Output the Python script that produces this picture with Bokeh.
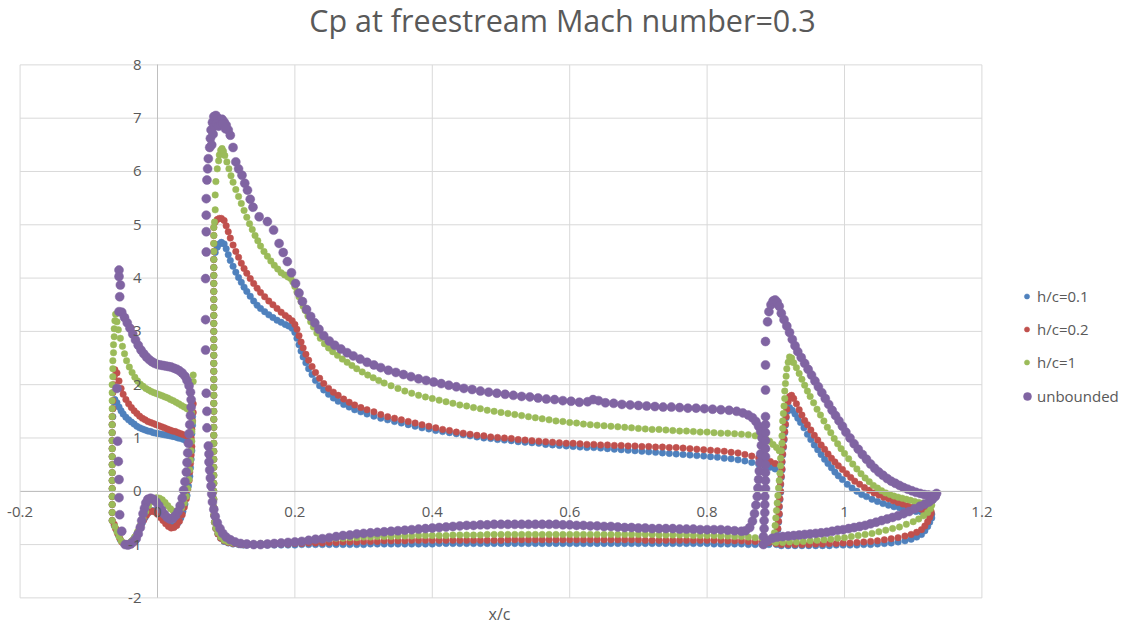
from bokeh.plotting import figure
from bokeh.models import Legend, LegendItem, FixedTicker, Range1d, Label
from bokeh.embed import file_html
from bokeh.resources import INLINE

# ---------------- text ----------------
TITLE = "Cp at freestream Mach number=0.3"
X_LABEL = "x/c"
SERIES_NAMES = ["h/c=0.1", "h/c=0.2", "h/c=1", "unbounded"]
SERIES_COLORS = ["#4F81BD", "#C0504D", "#9BBB59", "#8064A2"]
X_TICKS = [-0.2, 0, 0.2, 0.4, 0.6, 0.8, 1, 1.2]
X_TICK_LABELS = ["-0.2", "0", "0.2", "0.4", "0.6", "0.8", "1", "1.2"]
Y_TICKS = [-2, -1, 0, 1, 2, 3, 4, 5, 6, 7, 8]
Y_TICK_LABELS = ["-2", "-1", "0", "1", "2", "3", "4", "5", "6", "7", "8"]

# ---------------- data: (x/c, Cp) ----------------
# --- slat ---
H01_SLAT = [(-0.066,-0.55),(-0.066,-0.40),(-0.066,-0.25),(-0.066,-0.10),(-0.066,0.05),(-0.066,0.20),(-0.066,0.35),
            (-0.066,0.50),(-0.066,0.65),(-0.066,0.80),(-0.066,0.95),(-0.066,1.10),(-0.066,1.25),(-0.065,1.40),
            (-0.065,1.55),(-0.064,1.68),(-0.062,1.72),(-0.059,1.66),(-0.056,1.58),(-0.053,1.51),(-0.050,1.45),
            (-0.046,1.39),(-0.042,1.34),(-0.038,1.30),(-0.034,1.26),(-0.030,1.22),(-0.026,1.19),(-0.022,1.17),
            (-0.018,1.15),(-0.014,1.13),(-0.010,1.12),(-0.006,1.10),(-0.002,1.09),(0.002,1.08),(0.006,1.07),
            (0.010,1.06),(0.014,1.05),(0.018,1.04),(0.022,1.03),(0.026,1.02),(0.030,1.00),(0.034,0.99),
            (0.038,0.97),(0.042,0.95),(0.046,0.93),(0.049,0.92),(0.050,1.08),(0.051,1.24),(0.051,1.40),
            (0.050,0.76),(0.049,0.60),(0.048,0.44),(0.047,0.28),(0.045,0.10),(0.043,-0.08),(0.040,-0.24),
            (0.037,-0.38),(0.034,-0.50),(0.030,-0.59),(0.026,-0.64),(0.022,-0.66),(0.018,-0.64),(0.014,-0.60),
            (0.010,-0.54),(0.006,-0.48),(0.002,-0.42),(-0.002,-0.38),(-0.006,-0.36),(-0.010,-0.37),(-0.014,-0.41),
            (-0.018,-0.49),(-0.022,-0.59),(-0.026,-0.70),(-0.030,-0.80),(-0.034,-0.88),(-0.038,-0.94),
            (-0.042,-0.98),(-0.046,-0.99),(-0.050,-0.97),(-0.054,-0.91),(-0.057,-0.82),(-0.060,-0.72),(-0.063,-0.64)]

H02_SLAT = [(-0.066,-0.55),(-0.066,-0.40),(-0.066,-0.25),(-0.066,-0.10),(-0.066,0.05),(-0.066,0.20),(-0.066,0.35),
            (-0.066,0.50),(-0.066,0.65),(-0.066,0.80),(-0.066,0.95),(-0.066,1.10),(-0.066,1.25),(-0.066,1.40),
            (-0.065,1.55),(-0.065,1.70),(-0.065,1.85),(-0.064,2.00),(-0.063,2.15),(-0.062,2.28),(-0.059,2.22),
            (-0.056,2.07),(-0.053,1.93),(-0.050,1.82),(-0.046,1.72),(-0.042,1.64),(-0.038,1.57),(-0.034,1.51),
            (-0.030,1.46),(-0.026,1.41),(-0.022,1.37),(-0.018,1.34),(-0.014,1.31),(-0.010,1.29),(-0.006,1.27),
            (-0.002,1.25),(0.002,1.23),(0.006,1.21),(0.010,1.19),(0.014,1.17),(0.018,1.15),(0.022,1.13),
            (0.026,1.12),(0.030,1.10),(0.034,1.08),(0.038,1.06),(0.042,1.04),(0.046,1.02),(0.049,1.00),
            (0.050,1.16),(0.051,1.32),(0.052,1.48),(0.052,1.64),(0.050,0.84),(0.049,0.68),(0.048,0.52),
            (0.047,0.36),(0.046,0.20),(0.044,0.03),(0.042,-0.14),(0.039,-0.30),(0.036,-0.44),(0.032,-0.56),
            (0.028,-0.64),(0.024,-0.68),(0.020,-0.69),(0.016,-0.66),(0.012,-0.61),(0.008,-0.55),(0.004,-0.49),
            (0.000,-0.43),(-0.004,-0.39),(-0.008,-0.37),(-0.012,-0.39),(-0.016,-0.45),(-0.020,-0.54),
            (-0.024,-0.64),(-0.028,-0.75),(-0.032,-0.85),(-0.036,-0.92),(-0.040,-0.97),(-0.044,-0.99),
            (-0.048,-0.99),(-0.052,-0.95),(-0.055,-0.88),(-0.058,-0.79),(-0.061,-0.70),(-0.063,-0.62)]

H1_SLAT = [(-0.066,-0.55),(-0.066,-0.40),(-0.066,-0.25),(-0.066,-0.10),(-0.066,0.05),(-0.066,0.20),(-0.066,0.35),
           (-0.066,0.50),(-0.066,0.65),(-0.066,0.80),(-0.066,0.95),(-0.066,1.10),(-0.066,1.25),(-0.066,1.40),
           (-0.066,1.55),(-0.066,1.70),(-0.066,1.85),(-0.066,2.00),(-0.065,2.15),(-0.065,2.30),(-0.065,2.45),
           (-0.064,2.60),(-0.064,2.75),(-0.063,2.90),(-0.063,3.05),(-0.062,3.20),(-0.061,3.32),(-0.059,3.18),
           (-0.057,3.03),(-0.054,2.87),(-0.051,2.72),(-0.048,2.58),(-0.045,2.45),(-0.041,2.33),(-0.037,2.23),
           (-0.033,2.14),(-0.029,2.07),(-0.025,2.01),(-0.021,1.97),(-0.017,1.93),(-0.013,1.90),(-0.009,1.87),
           (-0.005,1.85),(-0.001,1.83),(0.003,1.81),(0.007,1.79),(0.011,1.77),(0.015,1.75),(0.019,1.72),
           (0.023,1.70),(0.027,1.67),(0.031,1.64),(0.035,1.61),(0.039,1.58),(0.043,1.55),(0.047,1.51),
           (0.050,1.47),(0.052,2.06),(0.052,2.18),(0.051,1.30),(0.050,1.12),(0.050,0.94),(0.049,0.76),
           (0.048,0.58),(0.047,0.40),(0.046,0.22),(0.044,0.05),(0.042,-0.10),(0.039,-0.22),(0.035,-0.31),
           (0.031,-0.36),(0.027,-0.38),(0.023,-0.37),(0.019,-0.33),(0.015,-0.27),(0.011,-0.21),(0.007,-0.16),
           (0.003,-0.13),(-0.001,-0.12),(-0.005,-0.14),(-0.009,-0.19),(-0.013,-0.27),(-0.017,-0.38),
           (-0.021,-0.51),(-0.025,-0.64),(-0.029,-0.76),(-0.033,-0.86),(-0.037,-0.93),(-0.041,-0.97),
           (-0.045,-0.99),(-0.049,-0.98),(-0.053,-0.93),(-0.056,-0.85),(-0.059,-0.76),(-0.062,-0.66)]

UNB_SLAT = [(-0.056,4.15),(-0.056,4.03),(-0.054,3.87),(-0.055,3.65),(-0.056,3.37),(-0.052,3.36),(-0.048,3.26),
            (-0.044,3.16),(-0.040,3.06),(-0.036,2.95),(-0.032,2.84),(-0.028,2.74),(-0.024,2.65),(-0.020,2.58),
            (-0.016,2.52),(-0.012,2.47),(-0.008,2.43),(-0.004,2.40),(0.000,2.38),(0.004,2.37),(0.008,2.36),
            (0.012,2.35),(0.016,2.34),(0.020,2.33),(0.024,2.31),(0.028,2.29),(0.032,2.26),(0.036,2.22),
            (0.040,2.16),(0.043,2.08),(0.046,1.98),(0.048,1.86),(0.049,1.72),(0.049,1.58),(0.048,1.42),
            (0.047,1.25),(0.046,1.08),(0.045,0.90),(0.044,0.72),(0.043,0.54),(0.042,0.36),(0.040,0.18),
            (0.038,0.02),(0.036,-0.13),(0.033,-0.27),(0.030,-0.38),(0.026,-0.46),(0.022,-0.51),(0.018,-0.52),
            (0.014,-0.49),(0.010,-0.43),(0.006,-0.35),(0.002,-0.27),(-0.002,-0.20),(-0.006,-0.15),
            (-0.010,-0.13),(-0.014,-0.15),(-0.017,-0.22),(-0.019,-0.32),(-0.021,-0.42),(-0.023,-0.55),
            (-0.025,-0.68),(-0.028,-0.80),(-0.031,-0.89),(-0.035,-0.95),(-0.039,-0.99),(-0.043,-1.01),
            (-0.047,-1.00),(-0.059,1.93),(-0.058,0.94),(-0.057,0.56),(-0.056,0.22),(-0.056,-0.12),
            (-0.055,-0.44),(-0.052,-0.75)]

# --- main element: leading-edge column (Cp stations, x/c = 0.082) ---
MAIN_LE_CP = [-0.45,-0.30,-0.15,0.00,0.15,0.30,0.45,0.60,0.75,0.90,1.05,1.20,1.35,1.50,1.65,1.80,1.95,
              2.10,2.25,2.40,2.55,2.70,2.85,3.00,3.15,3.30,3.45,3.60,3.75,3.90,4.05,4.20,4.35,4.50,4.65,
              4.80,4.95]
MAIN_LE_X = 0.082
H01_LE_TOP = [(0.084,4.48),(0.087,4.58),(0.090,4.64),(0.093,4.67)]
H02_LE_TOP = [(0.084,5.05),(0.087,5.10),(0.090,5.12),(0.093,5.12)]
H1_LE_TOP = [(0.083,5.05),(0.084,5.28),(0.084,5.56),(0.085,5.81),(0.087,6.05),(0.089,6.20),(0.090,6.31),
             (0.092,6.40),(0.094,6.43),(0.096,6.38)]

# --- main element upper surface (h/c=0.1 and 0.2 share stations) ---
MAIN_UP_X = [0.097,0.100,0.103,0.106,0.110,0.114,0.118,0.122,0.126,0.130,0.135,0.140,0.145,0.150,
             0.156,0.162,0.168,0.174,0.180,0.186,0.191,0.196,0.200,0.203,0.206,0.209,0.212,
             0.216,0.220,0.225,0.230,0.236,0.242,0.249,0.256,0.263,0.271,0.279,0.287,0.296,0.305,
             0.315,0.325,0.335,0.345,0.355,0.365,0.375,0.385,0.395,0.405,0.415,0.425,0.435,0.445,
             0.455,0.465,0.475,0.485,0.495,0.505,0.515,0.525,0.535,0.545,0.555,0.565,0.575,0.585,
             0.595,0.605,0.615,0.625,0.635,0.645,0.655,0.665,0.675,0.685,0.695,0.705,0.715,0.725,
             0.735,0.745,0.755,0.765,0.775,0.785,0.795,0.805,0.815,0.825,0.835,0.845,0.855,0.865,
             0.875,0.884,0.892,0.899]
H01_MAIN_UP = [4.64,4.55,4.44,4.33,4.22,4.11,4.01,3.92,3.83,3.75,3.66,3.57,3.49,3.43,
               3.37,3.31,3.26,3.21,3.17,3.13,3.10,3.06,2.98,2.87,2.75,2.63,2.52,
               2.41,2.30,2.19,2.08,1.98,1.90,1.82,1.75,1.69,1.63,1.58,1.53,1.49,1.45,
               1.41,1.37,1.34,1.31,1.28,1.25,1.22,1.19,1.17,1.14,1.12,1.10,1.08,1.06,
               1.04,1.02,1.00,0.99,0.97,0.96,0.95,0.93,0.92,0.91,0.90,0.88,0.87,0.86,
               0.85,0.84,0.83,0.82,0.82,0.81,0.80,0.79,0.78,0.77,0.76,0.75,0.74,0.73,
               0.72,0.71,0.70,0.69,0.68,0.67,0.66,0.65,0.64,0.62,0.61,0.59,0.57,0.54,
               0.51,0.48,0.45,0.42]
H02_MAIN_UP = [5.08,4.98,4.87,4.75,4.62,4.50,4.39,4.28,4.18,4.09,3.99,3.90,3.81,3.73,
               3.65,3.57,3.50,3.43,3.36,3.30,3.25,3.20,3.13,3.04,2.92,2.80,2.69,
               2.57,2.46,2.34,2.23,2.12,2.02,1.93,1.86,1.80,1.73,1.67,1.62,1.57,1.53,
               1.49,1.44,1.40,1.37,1.34,1.31,1.28,1.25,1.22,1.19,1.16,1.14,1.11,1.09,
               1.07,1.05,1.04,1.02,1.01,1.00,0.99,0.97,0.96,0.95,0.94,0.93,0.92,0.91,
               0.90,0.90,0.89,0.88,0.88,0.87,0.87,0.86,0.86,0.85,0.85,0.84,0.84,0.83,
               0.83,0.82,0.82,0.81,0.80,0.79,0.78,0.77,0.76,0.75,0.73,0.72,0.69,0.66,
               0.63,0.60,0.56,0.52]
H1_MAIN_UP = [(0.098,6.30),(0.101,6.18),(0.104,6.05),(0.107,5.92),(0.110,5.80),(0.114,5.66),(0.118,5.53),
              (0.122,5.40),(0.126,5.27),(0.130,5.14),(0.134,5.02),(0.138,4.91),(0.142,4.80),(0.146,4.70),
              (0.150,4.60),(0.155,4.50),(0.160,4.41),(0.165,4.32),(0.170,4.24),(0.175,4.17),(0.180,4.10),
              (0.185,4.06),(0.190,4.02),(0.194,3.99),(0.197,3.93),(0.200,3.84),(0.203,3.74),(0.206,3.65),
              (0.209,3.56),(0.212,3.47),(0.215,3.39),(0.219,3.29),(0.223,3.18),(0.227,3.08),(0.232,2.97),
              (0.237,2.87),(0.243,2.77),(0.249,2.69),(0.255,2.62),(0.262,2.55),(0.269,2.48),(0.276,2.42),
              (0.283,2.36),(0.290,2.30),(0.298,2.24),(0.306,2.18),(0.314,2.13),(0.322,2.08),(0.330,2.03),
              (0.340,1.98),(0.350,1.93),(0.360,1.88),(0.370,1.84),(0.380,1.80),(0.390,1.77),(0.400,1.74),
              (0.410,1.71),(0.420,1.68),(0.430,1.65),(0.440,1.62),(0.450,1.60),(0.460,1.57),(0.470,1.55),
              (0.480,1.52),(0.490,1.50),(0.500,1.48),(0.510,1.46),(0.520,1.44),(0.530,1.42),(0.540,1.40),
              (0.550,1.38),(0.560,1.36),(0.570,1.34),(0.580,1.32),(0.590,1.31),(0.600,1.29),(0.610,1.28),
              (0.620,1.26),(0.630,1.25),(0.640,1.24),(0.650,1.23),(0.660,1.22),(0.670,1.21),(0.680,1.20),
              (0.690,1.19),(0.700,1.18),(0.710,1.17),(0.720,1.16),(0.730,1.16),(0.740,1.15),(0.750,1.14),
              (0.760,1.13),(0.770,1.13),(0.780,1.12),(0.790,1.11),(0.800,1.11),(0.810,1.10),(0.820,1.09),
              (0.830,1.09),(0.840,1.08),(0.850,1.07),(0.860,1.06),(0.870,1.04),(0.878,1.02),(0.885,0.99),
              (0.891,0.94),(0.896,0.88),(0.901,0.82),(0.905,0.76)]

# --- main element lower surface near the leading edge ---
H01_MAIN_NOSE = [(0.083,-0.58),(0.085,-0.70),(0.088,-0.80),(0.092,-0.88),(0.097,-0.94),(0.103,-0.97),
                 (0.110,-0.99),(0.118,-1.00),(0.125,-1.01)]
H02_MAIN_NOSE = [(0.083,-0.58),(0.085,-0.70),(0.088,-0.80),(0.092,-0.88),(0.097,-0.93),(0.103,-0.96),
                 (0.110,-0.98),(0.118,-0.99),(0.125,-1.00)]
H1_MAIN_NOSE = [(0.083,-0.58),(0.085,-0.69),(0.088,-0.78),(0.092,-0.86),(0.097,-0.92),(0.103,-0.95),
                (0.110,-0.97),(0.118,-0.98),(0.125,-0.99)]

# --- main element lower surface (shared stations) ---
MAIN_LO_X = [0.13,0.14,0.15,0.16,0.17,0.18,0.19,0.20,0.21,0.22,0.23,0.24,0.25,0.26,0.27,0.28,0.29,0.30,
             0.31,0.32,0.33,0.34,0.35,0.36,0.37,0.38,0.39,0.40,0.41,0.42,0.43,0.44,0.45,0.46,0.47,0.48,
             0.49,0.50,0.51,0.52,0.53,0.54,0.55,0.56,0.57,0.58,0.59,0.60,0.61,0.62,0.63,0.64,0.65,0.66,
             0.67,0.68,0.69,0.70,0.71,0.72,0.73,0.74,0.75,0.76,0.77,0.78,0.79,0.80,0.81,0.82,0.83,0.84,
             0.85,0.86,0.87,0.88,0.89]
H01_MAIN_LO = [-1.01,-1.01,-1.01,-1.01,-1.01,-1.01,-1.01,-1.01,-1.00,-1.00,-1.00,-1.00,-1.00,-1.00,-1.00,
               -1.00,-1.00,-1.00,-0.99,-0.99,-0.99,-0.99,-0.99,-0.99,-0.99,-0.99,-0.99,-0.99,-0.98,-0.98,
               -0.98,-0.98,-0.98,-0.98,-0.98,-0.98,-0.98,-0.98,-0.98,-0.98,-0.98,-0.98,-0.98,-0.98,-0.98,
               -0.98,-0.98,-0.98,-0.98,-0.98,-0.98,-0.98,-0.98,-0.98,-0.98,-0.98,-0.98,-0.98,-0.98,-0.98,
               -0.98,-0.98,-0.98,-0.98,-0.98,-0.98,-0.98,-0.98,-0.99,-0.99,-0.99,-0.99,-0.99,-1.00,-1.00,
               -1.00,-1.00]
H02_MAIN_LO = [-1.00,-1.00,-1.00,-0.99,-0.99,-0.99,-0.99,-0.98,-0.98,-0.97,-0.97,-0.97,-0.96,-0.96,-0.95,
               -0.95,-0.95,-0.94,-0.94,-0.94,-0.93,-0.93,-0.93,-0.93,-0.92,-0.92,-0.92,-0.92,-0.92,-0.92,
               -0.92,-0.92,-0.92,-0.92,-0.92,-0.92,-0.92,-0.92,-0.91,-0.91,-0.91,-0.91,-0.91,-0.91,-0.91,
               -0.91,-0.91,-0.91,-0.91,-0.91,-0.91,-0.91,-0.91,-0.91,-0.91,-0.91,-0.91,-0.91,-0.92,-0.92,
               -0.92,-0.92,-0.92,-0.92,-0.92,-0.92,-0.92,-0.92,-0.92,-0.92,-0.93,-0.93,-0.93,-0.94,-0.94,
               -0.95,-0.96]
H1_MAIN_LO = [-0.99,-0.99,-0.98,-0.98,-0.98,-0.97,-0.97,-0.96,-0.94,-0.92,-0.91,-0.90,-0.89,-0.88,-0.88,
              -0.87,-0.87,-0.86,-0.86,-0.85,-0.85,-0.85,-0.84,-0.84,-0.84,-0.83,-0.83,-0.83,-0.83,-0.83,
              -0.82,-0.82,-0.82,-0.82,-0.82,-0.81,-0.81,-0.81,-0.81,-0.81,-0.81,-0.81,-0.81,-0.81,-0.81,
              -0.81,-0.81,-0.81,-0.81,-0.81,-0.81,-0.81,-0.81,-0.81,-0.81,-0.81,-0.81,-0.81,-0.81,-0.81,
              -0.82,-0.82,-0.82,-0.82,-0.82,-0.83,-0.83,-0.83,-0.83,-0.84,-0.84,-0.85,-0.85,-0.86,-0.87,
              -0.88,-0.90]
UNB_MAIN_LO = [-0.99,-1.00,-1.00,-0.99,-0.98,-0.97,-0.96,-0.95,-0.94,-0.92,-0.90,-0.89,-0.87,-0.85,-0.83,
               -0.82,-0.80,-0.79,-0.78,-0.77,-0.76,-0.75,-0.74,-0.73,-0.72,-0.71,-0.70,-0.69,-0.68,-0.67,
               -0.66,-0.65,-0.64,-0.64,-0.63,-0.63,-0.62,-0.62,-0.62,-0.62,-0.62,-0.62,-0.62,-0.62,-0.62,
               -0.62,-0.63,-0.63,-0.64,-0.64,-0.65,-0.65,-0.66,-0.66,-0.67,-0.68,-0.68,-0.69,-0.69,-0.70,
               -0.70,-0.70,-0.70,-0.71,-0.71,-0.71,-0.72,-0.72,-0.72,-0.72,-0.73,-0.74,-0.75]

# --- unbounded main element (sparser, own stations) ---
UNB_MAIN_LE = [(0.072,1.19),(0.072,1.50),(0.071,1.84),(0.070,2.65),(0.070,3.22),(0.070,3.99),(0.071,4.49),
               (0.071,4.87),(0.071,5.18),(0.071,5.49),(0.072,5.84),(0.073,6.05),(0.074,6.24),(0.076,6.45),
               (0.077,6.62),(0.078,6.78),(0.080,6.92),(0.082,7.03),(0.085,7.05),(0.088,7.00),(0.091,6.97),
               (0.094,6.98),(0.097,6.93),(0.100,6.87),(0.103,6.78),(0.079,6.50),(0.081,6.70),(0.083,6.85),
               (0.086,6.90),(0.089,6.85),(0.092,6.88),(0.095,6.90),(0.099,6.80)]
UNB_MAIN_UP = [(0.106,6.68),(0.110,6.45),(0.114,6.18),(0.118,6.05),(0.123,5.93),(0.127,5.78),(0.131,5.65),
               (0.135,5.48),(0.139,5.33),(0.148,5.15),(0.160,5.06),(0.169,4.90),(0.177,4.65),(0.183,4.48),
               (0.189,4.31),(0.195,4.10),(0.201,3.90),(0.206,3.72),(0.211,3.56),(0.217,3.41),(0.223,3.28),
               (0.229,3.16),(0.235,3.04),(0.242,2.92),(0.250,2.82),(0.258,2.74),(0.267,2.67),(0.276,2.60),
               (0.285,2.54),(0.295,2.48),(0.305,2.42),(0.315,2.37),(0.325,2.32),(0.336,2.27),(0.347,2.23),
               (0.358,2.19),(0.369,2.15),(0.380,2.11),(0.391,2.08),(0.402,2.05),(0.413,2.02),(0.424,1.99),
               (0.435,1.96),(0.446,1.93),(0.458,1.91),(0.470,1.88),(0.482,1.86),(0.494,1.84),(0.506,1.82),
               (0.518,1.80),(0.530,1.78),(0.542,1.77),(0.554,1.75),(0.566,1.73),(0.578,1.72),(0.590,1.70),
               (0.602,1.69),(0.614,1.67),(0.626,1.68),(0.634,1.72),(0.642,1.70),(0.652,1.66),(0.664,1.65),
               (0.676,1.63),(0.688,1.62),(0.700,1.61),(0.712,1.60),(0.724,1.59),(0.736,1.58),(0.748,1.58),
               (0.760,1.57),(0.772,1.56),(0.784,1.56),(0.796,1.55),(0.808,1.54),(0.820,1.53),(0.832,1.52),
               (0.843,1.50),(0.852,1.47),(0.860,1.43),(0.866,1.38),(0.871,1.31),(0.875,1.22),(0.878,1.12),
               (0.880,1.00)]
UNB_MAIN_NOSE = [(0.074,0.85),(0.075,0.70),(0.075,0.55),(0.076,0.40),(0.077,0.25),(0.078,0.10),(0.079,-0.05),
                 (0.080,-0.20),(0.082,-0.34),(0.084,-0.47),(0.087,-0.59),(0.091,-0.70),(0.095,-0.79),
                 (0.100,-0.86),(0.106,-0.91),(0.113,-0.95),(0.121,-0.98)]
UNB_MAIN_TE = [(0.856,-0.74),(0.862,-0.68),(0.866,-0.56),(0.869,-0.42),(0.871,-0.26),(0.873,-0.10),
               (0.874,0.06),(0.875,0.22),(0.876,0.38),(0.877,0.54),(0.878,0.70),(0.879,0.86)]

# --- flap ---
H01_FLAP = [(0.901,-1.00),(0.902,-0.86),(0.903,-0.72),(0.904,-0.58),(0.905,-0.44),(0.905,-0.30),(0.906,-0.16),
            (0.907,-0.02),(0.907,0.12),(0.908,0.26),(0.909,0.40),(0.909,0.54),(0.910,0.68),(0.911,0.82),
            (0.912,0.96),(0.913,1.10),(0.914,1.24),(0.915,1.38),(0.917,1.50),(0.920,1.57),(0.924,1.52),
            (0.928,1.45),(0.932,1.37),(0.936,1.29),(0.941,1.19),(0.946,1.07),(0.951,0.97),(0.956,0.87),
            (0.961,0.78),(0.966,0.69),(0.971,0.60),(0.976,0.52),(0.981,0.44),(0.986,0.36),(0.991,0.29),
            (0.997,0.22),(1.004,0.13),(1.011,0.06),(1.018,0.00),(1.025,-0.06),(1.032,-0.10),(1.040,-0.15),
            (1.048,-0.19),(1.056,-0.23),(1.064,-0.26),(1.072,-0.29),(1.080,-0.31),(1.088,-0.34),(1.096,-0.36),
            (1.104,-0.38),(1.112,-0.39),(1.120,-0.41),(1.127,-0.43),(0.908,-1.02),(0.918,-1.02),(0.928,-1.02),
            (0.938,-1.02),(0.948,-1.02),(0.958,-1.02),(0.968,-1.02),(0.978,-1.02),(0.988,-1.01),(0.998,-1.01),
            (1.008,-1.01),(1.018,-1.01),(1.028,-1.00),(1.038,-1.00),(1.048,-0.99),(1.058,-0.98),(1.068,-0.97),
            (1.078,-0.95),(1.088,-0.93),(1.097,-0.90),(1.105,-0.86),(1.112,-0.81),(1.117,-0.74),(1.121,-0.66),
            (1.124,-0.58),(1.127,-0.50)]
H02_FLAP = [(0.900,-0.98),(0.902,-0.84),(0.903,-0.70),(0.904,-0.56),(0.905,-0.42),(0.905,-0.28),(0.906,-0.14),
            (0.907,0.00),(0.907,0.14),(0.908,0.28),(0.909,0.42),(0.909,0.56),(0.910,0.70),(0.911,0.84),
            (0.912,0.98),(0.913,1.12),(0.914,1.26),(0.915,1.40),(0.916,1.54),(0.918,1.68),(0.920,1.78),
            (0.923,1.80),(0.926,1.74),(0.930,1.64),(0.934,1.53),(0.938,1.43),(0.942,1.33),(0.946,1.25),
            (0.951,1.15),(0.956,1.05),(0.961,0.96),(0.966,0.87),(0.971,0.79),(0.976,0.70),(0.981,0.62),
            (0.986,0.55),(0.991,0.48),(0.997,0.41),(1.003,0.33),(1.009,0.26),(1.015,0.19),(1.022,0.13),
            (1.029,0.07),(1.036,0.02),(1.043,-0.03),(1.050,-0.07),(1.057,-0.11),(1.064,-0.14),(1.071,-0.18),
            (1.078,-0.21),(1.085,-0.24),(1.092,-0.27),(1.099,-0.30),(1.106,-0.32),(1.113,-0.34),(1.120,-0.36),
            (1.126,-0.38),(0.908,-1.00),(0.918,-1.00),(0.928,-1.00),(0.938,-1.00),(0.948,-1.00),(0.958,-0.99),
            (0.968,-0.99),(0.978,-0.98),(0.988,-0.98),(0.998,-0.97),(1.008,-0.97),(1.018,-0.96),(1.028,-0.95),
            (1.038,-0.94),(1.048,-0.93),(1.058,-0.91),(1.068,-0.89),(1.078,-0.87),(1.088,-0.84),(1.097,-0.81),
            (1.105,-0.77),(1.112,-0.72),(1.117,-0.65),(1.121,-0.57),(1.124,-0.49),(1.126,-0.42)]
H1_FLAP = [(0.896,-0.92),(0.898,-0.78),(0.899,-0.64),(0.900,-0.50),(0.901,-0.36),(0.902,-0.22),(0.903,-0.08),
           (0.904,0.06),(0.905,0.20),(0.906,0.34),(0.907,0.48),(0.907,0.62),(0.908,0.76),(0.909,0.90),
           (0.909,1.04),(0.910,1.18),(0.910,1.32),(0.911,1.46),(0.912,1.60),(0.913,1.74),(0.913,1.88),
           (0.914,2.02),(0.915,2.16),(0.916,2.30),(0.918,2.42),(0.920,2.52),(0.923,2.50),(0.926,2.41),
           (0.930,2.32),(0.934,2.21),(0.938,2.10),(0.942,1.99),(0.946,1.88),(0.950,1.78),(0.955,1.66),
           (0.960,1.54),(0.965,1.43),(0.970,1.32),(0.975,1.20),(0.980,1.10),(0.985,0.99),(0.990,0.89),
           (0.995,0.80),(1.000,0.71),(1.006,0.61),(1.012,0.51),(1.018,0.42),(1.024,0.33),(1.030,0.25),
           (1.036,0.18),(1.042,0.11),(1.048,0.06),(1.054,0.01),(1.060,-0.03),(1.066,-0.06),(1.072,-0.09),
           (1.078,-0.11),(1.084,-0.13),(1.090,-0.15),(1.096,-0.17),(1.102,-0.19),(1.108,-0.21),(1.114,-0.22),
           (1.120,-0.22),(1.126,-0.21),(0.900,-0.96),(0.910,-0.96),(0.920,-0.95),(0.930,-0.95),(0.940,-0.94),
           (0.950,-0.93),(0.960,-0.92),(0.970,-0.91),(0.980,-0.90),(0.990,-0.88),(1.000,-0.87),(1.010,-0.85),
           (1.020,-0.83),(1.030,-0.81),(1.040,-0.79),(1.050,-0.76),(1.060,-0.73),(1.070,-0.70),(1.080,-0.67),
           (1.090,-0.62),(1.100,-0.57),(1.108,-0.52),(1.115,-0.46),(1.121,-0.40),(1.125,-0.33),(1.127,-0.26)]
UNB_FLAP = [(0.882,-1.00),(0.882,-0.85),(0.883,-0.70),(0.883,-0.55),(0.884,-0.40),(0.884,-0.25),(0.884,-0.10),
            (0.885,0.05),(0.885,0.20),(0.885,0.35),(0.885,0.50),(0.885,0.65),(0.885,0.80),(0.885,0.95),
            (0.885,1.10),(0.885,1.25),(0.885,1.40),(0.885,1.90),(0.885,2.37),(0.885,2.81),(0.888,3.18),
            (0.890,3.37),(0.893,3.50),(0.896,3.57),(0.899,3.59),(0.902,3.55),(0.905,3.47),(0.908,3.34),
            (0.912,3.22),(0.916,3.10),(0.920,2.98),(0.924,2.85),(0.928,2.73),(0.932,2.62),(0.937,2.51),
            (0.942,2.40),(0.947,2.29),(0.952,2.18),(0.957,2.07),(0.962,1.96),(0.967,1.85),(0.972,1.74),
            (0.977,1.63),(0.982,1.52),(0.987,1.42),(0.992,1.32),(0.997,1.22),(1.002,1.11),(1.008,1.00),
            (1.014,0.89),(1.020,0.79),(1.026,0.69),(1.032,0.60),(1.038,0.51),(1.044,0.43),(1.050,0.36),
            (1.056,0.30),(1.062,0.24),(1.068,0.19),(1.074,0.15),(1.080,0.11),(1.086,0.07),(1.092,0.04),
            (1.098,0.01),(1.104,-0.02),(1.110,-0.04),(1.116,-0.06),(1.122,-0.07),(1.128,-0.08),(1.132,-0.08),
            (0.888,-0.93),(0.895,-0.88),(0.902,-0.86),(0.910,-0.85),(0.918,-0.84),(0.926,-0.83),(0.934,-0.82),
            (0.942,-0.81),(0.950,-0.80),(0.958,-0.79),(0.966,-0.78),(0.974,-0.77),(0.982,-0.75),(0.990,-0.73),
            (0.998,-0.72),(1.006,-0.70),(1.014,-0.68),(1.022,-0.66),(1.030,-0.64),(1.038,-0.61),(1.046,-0.58),
            (1.054,-0.55),(1.062,-0.52),(1.070,-0.49),(1.078,-0.46),(1.086,-0.42),(1.094,-0.38),(1.102,-0.33),
            (1.110,-0.28),(1.117,-0.24),(1.123,-0.20),(1.128,-0.15),(1.132,-0.10),(1.134,-0.04)]


# ---------------- assemble series ----------------
def gather(*segments):
    xs, ys = [], []
    for seg in segments:
        for x, y in seg:
            xs.append(x)
            ys.append(y)
    return xs, ys


def le_column(top):
    return [(MAIN_LE_X, c) for c in MAIN_LE_CP if c <= top]


series = [
    gather(H01_SLAT, le_column(4.35), H01_LE_TOP, zip(MAIN_UP_X, H01_MAIN_UP), H01_MAIN_NOSE,
           zip(MAIN_LO_X, H01_MAIN_LO), H01_FLAP),
    gather(H02_SLAT, le_column(4.95), H02_LE_TOP, zip(MAIN_UP_X, H02_MAIN_UP), H02_MAIN_NOSE,
           zip(MAIN_LO_X, H02_MAIN_LO), H02_FLAP),
    gather(H1_SLAT, le_column(4.95), H1_LE_TOP, H1_MAIN_UP, H1_MAIN_NOSE,
           zip(MAIN_LO_X, H1_MAIN_LO), H1_FLAP),
    gather(UNB_SLAT, UNB_MAIN_LE, UNB_MAIN_UP, UNB_MAIN_NOSE, zip(MAIN_LO_X, UNB_MAIN_LO),
           UNB_MAIN_TE, UNB_FLAP),
]
SIZES = [6.5, 6.5, 6.5, 9]

# ---------------- layout / style ----------------
W, H = 1125, 626
FONT = "Open Sans"
GREY = "#595959"
GRID = "#D9D9D9"

# the frame fills the whole canvas; the plotted box (-0.2..1.2, -2..8) sits inside it
p = figure(width=W, height=H, x_range=Range1d(-0.2285, 1.4090), y_range=Range1d(-2.537, 9.208),
           output_backend="svg", toolbar_location=None, title=None,
           min_border=0, min_border_left=0, min_border_right=0, min_border_top=0, min_border_bottom=0)
p.outline_line_color = None
p.background_fill_color = "white"
p.border_fill_color = "white"
p.grid.visible = False

# gridlines of the plot box, built from the tick lists
gx0 = X_TICKS + [X_TICKS[0]] * len(Y_TICKS)
gx1 = X_TICKS + [X_TICKS[-1]] * len(Y_TICKS)
gy0 = [Y_TICKS[0]] * len(X_TICKS) + Y_TICKS
gy1 = [Y_TICKS[-1]] * len(X_TICKS) + Y_TICKS
p.segment(gx0, gy0, gx1, gy1, line_color=GRID, line_width=1, level="underlay")

for ax, ticks, labels in ((p.xaxis[0], X_TICKS, X_TICK_LABELS), (p.yaxis[0], Y_TICKS, Y_TICK_LABELS)):
    ax.fixed_location = 0
    ax.bounds = (ticks[0], ticks[-1])
    ax.ticker = FixedTicker(ticks=ticks)
    ax.major_label_overrides = dict(zip(ticks, labels))
    ax.axis_line_color = "#BFBFBF"
    ax.major_tick_line_color = None
    ax.minor_tick_line_color = None
    ax.major_label_text_font = FONT
    ax.major_label_text_font_size = "15px"
    ax.major_label_text_color = GREY
p.xaxis.major_label_standoff = 10
p.yaxis.major_label_standoff = 10

items = []
for (xs, ys), name, color, size in zip(series, SERIES_NAMES, SERIES_COLORS, SIZES):
    r = p.scatter(xs, ys, size=size, marker="circle", fill_color=color, line_color=color, line_width=0.5)
    items.append(LegendItem(label=name, renderers=[r]))

legend_style = dict(border_line_color=None, background_fill_alpha=0, label_text_font=FONT,
                    label_text_font_size="15px", label_text_color=GREY, glyph_height=30,
                    label_height=30, spacing=3, padding=10, margin=0)
legend_small = Legend(items=items[:3], location=(1020, 249), glyph_width=13, label_standoff=4, **legend_style)
legend_big = Legend(items=items[3:], location=(1017, 215), glyph_width=20, label_standoff=0, **legend_style)
p.add_layout(legend_small)
p.add_layout(legend_big)

p.add_layout(Label(x=562, y=607, x_units="screen", y_units="screen", text=TITLE, text_align="center",
                   text_baseline="alphabetic", text_font=FONT, text_font_size="30.5px", text_color=GREY))
p.add_layout(Label(x=499, y=13, x_units="screen", y_units="screen", text=X_LABEL, text_align="center",
                   text_baseline="alphabetic", text_font=FONT, text_font_size="16px", text_color=GREY))

open("out.html", "w").write(file_html(p, INLINE))
